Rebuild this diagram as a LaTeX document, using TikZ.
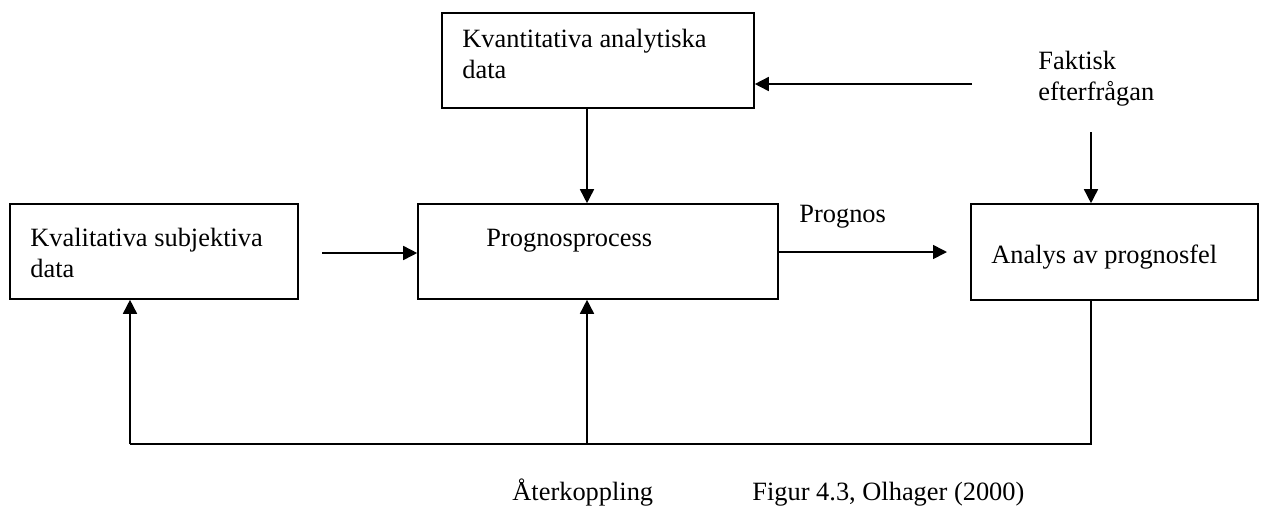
\documentclass[tikz,border=0pt]{standalone}
\usepackage{fontspec}
\setmainfont{Liberation Serif}
\usetikzlibrary{arrows.meta}
\begin{document}
\begin{tikzpicture}[x=0.5pt,y=-0.5pt,
  box/.style={draw, line width=0.8pt, rectangle, inner sep=0pt},
  lbl/.style={anchor=base west, inner sep=0pt, align=left,
    font=\fontsize{13.2}{15.25}\selectfont},
  conn/.style={line width=0.8pt},
  arr/.style={conn, -{Triangle[length=7pt,width=7pt]}}]
\useasboundingbox (0,0) rectangle (1264,505);

% boxes
\node[box, minimum width=156pt, minimum height=47.5pt] (kvant) at (598,60.5) {};
\node[box, minimum width=144pt, minimum height=47.5pt] (kval) at (154,251.5) {};
\node[box, minimum width=180pt, minimum height=47.5pt] (proc) at (598,251.5) {};
\node[box, minimum width=143.5pt, minimum height=48pt] (anal) at (1114.5,252) {};

% texts (multi-line labels are anchored at the baseline of their last line)
\node[lbl] (tkvant) at (462,78) {Kvantitativa analytiska\\data};
\node[lbl] (tkval) at (30,277) {Kvalitativa subjektiva\\data};
\node[lbl] (tproc) at (486,246) {Prognosprocess};
\node[lbl] (tprog) at (799,222) {Prognos};
\node[lbl] (tanal) at (991,263) {Analys av prognosfel};
\node[lbl] (tfakt) at (1038,100) {Faktisk\\efterfrågan};
\node[lbl] (tater) at (512,500) {Återkoppling};
\node[lbl] (tfig) at (752,500) {Figur 4.3, Olhager (2000)};

% free ends of connectors
\coordinate (f1) at (972,84);
\coordinate (f2) at (1091,132);
\coordinate (q1) at (322,253);
\coordinate (p1) at (947,252);
\coordinate (fbL) at (130,444);
\coordinate (fbM) at (587,444);
\coordinate (fbR) at (1091,444);

% connectors
\draw[arr] (f1) -- (f1 -| kvant.east);
\draw[arr] (f2) -- (f2 |- anal.north);
\draw[arr] (kvant.south -| fbM) -- (proc.north -| fbM);
\draw[arr] (q1) -- (q1 -| proc.west);
\draw[arr] (proc.east |- p1) -- (p1);
\draw[conn] (anal.south -| fbR) -- (fbR) -- (fbL);
\draw[arr] (fbL) -- (kval.south -| fbL);
\draw[arr] (fbM) -- (proc.south -| fbM);
\end{tikzpicture}
\end{document}
